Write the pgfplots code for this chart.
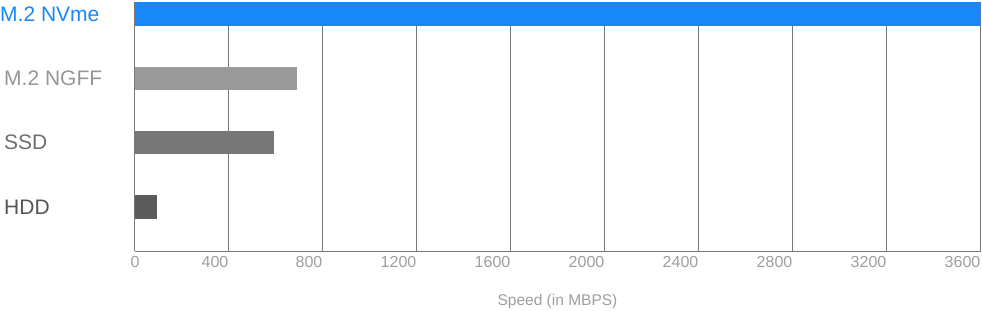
\documentclass[border=0pt]{standalone}
\usepackage{fontspec}
\setmainfont{Liberation Sans}
\usepackage{pgfplots}
\pgfplotsset{compat=1.18}
\definecolor{nvme}{RGB}{24,135,247}
\definecolor{ngff}{RGB}{154,154,154}
\definecolor{ssd}{RGB}{119,119,119}
\definecolor{hdd}{RGB}{92,92,92}
\definecolor{ngfftxt}{RGB}{150,150,150}
\definecolor{ssdtxt}{RGB}{110,110,110}
\definecolor{hddtxt}{RGB}{85,85,85}
\definecolor{gridc}{RGB}{120,120,120}
\definecolor{ticktxt}{RGB}{158,158,158}
\begin{document}
\begin{tikzpicture}
\useasboundingbox (0,0) rectangle (982bp,311bp);
\begin{axis}[
  at={(134.5bp,60bp)}, anchor=south west,
  scale only axis, width=846bp, height=249bp,
  xmin=0, xmax=3600, ymin=-0.684, ymax=3.187,
  xbar, bar shift=0pt, bar width=23.5bp,
  axis x line*=bottom, axis y line*=left,
  axis line style={draw=gridc, line width=1bp, -},
  xtick={400,800,...,3600},
  extra x ticks={0},
  extra x tick style={xticklabel style={anchor=base, xshift=0.5bp}},
  xmajorgrids, grid style={draw=gridc, line width=1bp},
  major tick length=0pt,
  xticklabel style={anchor=base east, inner sep=0pt, yshift=-16.7bp,
    font=\fontsize{16bp}{16bp}\selectfont, color=ticktxt,
    /pgf/number format/assume math mode=true, /pgf/number format/1000 sep={}},
  ytick={0,1,2,3},
  yticklabels={{\textcolor{hddtxt}{HDD}},{\textcolor{ssdtxt}{SSD}},{\textcolor{ngfftxt}{M.2 NGFF}},{\textcolor{nvme}{\hspace*{-4bp}M.2 NVme}}},
  yticklabel style={anchor=west, inner sep=0pt, xshift=-130.5bp,
    font=\fontsize{21bp}{21bp}\selectfont},
  xlabel={Speed (in MBPS)},
  xlabel style={at={(axis description cs:0.5,0)}, anchor=base, inner sep=0pt,
    yshift=-54.7bp, font=\fontsize{15.5bp}{15.5bp}\selectfont, color=ticktxt},
]
\addplot[fill=hdd, draw=none] coordinates {(97,0)};
\addplot[fill=ssd, draw=none] coordinates {(594,1)};
\addplot[fill=ngff, draw=none] coordinates {(692,2)};
\addplot[fill=nvme, draw=none] coordinates {(3600,3)};
\end{axis}
\end{tikzpicture}
\end{document}
